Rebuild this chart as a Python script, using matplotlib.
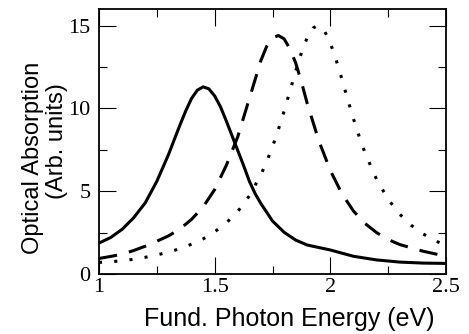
import matplotlib
matplotlib.use('Agg')
import matplotlib.pyplot as plt
import matplotlib.ticker as ticker

# values (eV, arb. units)
solid_x = [1.00, 1.05, 1.10, 1.15, 1.20, 1.25, 1.30, 1.35, 1.375, 1.40, 1.425, 1.45,
           1.475, 1.50, 1.525, 1.55, 1.575, 1.60, 1.625, 1.65, 1.675, 1.70, 1.75,
           1.80, 1.85, 1.90, 1.95, 2.00, 2.10, 2.20, 2.30, 2.40, 2.50]
solid_y = [1.87, 2.2, 2.7, 3.4, 4.3, 5.6, 7.2, 9.0, 9.85, 10.6, 11.1, 11.3,
           11.18, 10.75, 10.1, 9.25, 8.35, 7.45, 6.55, 5.6, 4.85, 4.25, 3.2,
           2.52, 2.05, 1.75, 1.6, 1.45, 1.07, 0.85, 0.72, 0.66, 0.64]

dash_x = [1.00, 1.05, 1.10, 1.15, 1.20, 1.25, 1.30, 1.35, 1.40, 1.45, 1.50, 1.55,
          1.60, 1.65, 1.70, 1.725, 1.75, 1.775, 1.80, 1.825, 1.85, 1.875, 1.90,
          1.95, 2.00, 2.05, 2.10, 2.15, 2.20, 2.25, 2.30, 2.40, 2.50]
dash_y = [0.94, 1.06, 1.2, 1.42, 1.68, 1.98, 2.3, 2.72, 3.3, 4.05, 5.1, 6.55,
          8.3, 10.6, 12.9, 13.75, 14.25, 14.4, 14.2, 13.6, 12.75, 11.6, 10.3,
          8.05, 6.25, 4.85, 3.8, 3.05, 2.5, 2.08, 1.78, 1.38, 1.07]

dot_x = [1.00, 1.05, 1.10, 1.15, 1.20, 1.25, 1.30, 1.35, 1.40, 1.45, 1.50, 1.55,
         1.60, 1.65, 1.70, 1.725, 1.75, 1.775, 1.80, 1.825, 1.85, 1.875, 1.90,
         1.925, 1.945, 1.975, 2.00, 2.025, 2.05, 2.075, 2.10, 2.125, 2.15, 2.20,
         2.25, 2.30, 2.35, 2.40, 2.45, 2.50]
dot_y = [0.70, 0.74, 0.8, 0.89, 1.01, 1.15, 1.32, 1.53, 1.8, 2.12, 2.55, 3.08,
         3.78, 4.72, 6.0, 6.79, 7.69, 8.71, 9.83, 11.03, 12.24, 13.36, 14.28,
         14.85, 15.0, 14.67, 13.95, 12.93, 11.76, 10.54, 9.37, 8.29, 7.31, 5.71,
         4.51, 3.61, 2.94, 2.43, 2.03, 1.72]

fig = plt.figure(figsize=(4.69, 3.34), dpi=100)
ax = fig.add_axes([0.2111, 0.1796, 0.951 - 0.2111, 0.973 - 0.1796])

ax.plot(solid_x, solid_y, color='black', lw=2.2, solid_capstyle='butt')
ax.plot(dash_x, dash_y, color='black', lw=2.2, linestyle=(0, (6, 4)), dash_capstyle='butt')
ax.plot(dot_x, dot_y, color='black', lw=2.2, linestyle=(0, (1, 4)), dash_capstyle='butt')

ax.set_xlim(1, 2.5)
ax.set_ylim(0, 16)
ax.xaxis.set_major_locator(ticker.MultipleLocator(0.5))
ax.xaxis.set_minor_locator(ticker.MultipleLocator(0.25))
ax.yaxis.set_major_locator(ticker.MultipleLocator(5))
ax.yaxis.set_minor_locator(ticker.MultipleLocator(2.5))
ax.xaxis.set_major_formatter(ticker.FuncFormatter(lambda v, pos: '{0:g}'.format(v)))

ax.tick_params(which='both', direction='in', top=True, right=True, width=0.8)
ax.tick_params(which='major', length=12.2)
ax.tick_params(which='minor', length=5.8)
ax.tick_params(axis='x', pad=3)
ax.tick_params(axis='y', pad=6)
for lab in ax.get_xticklabels() + ax.get_yticklabels():
    lab.set_fontfamily('Liberation Serif')
    lab.set_fontsize(16)
for sp in ax.spines.values():
    sp.set_linewidth(1.3)

# axis titles, placed by hand (the two y-label lines are not centred on each other)
ax.text(0.5476, -0.196, 'Fund. Photon Energy (eV)', transform=ax.transAxes,
        fontfamily='Liberation Sans', fontsize=18, ha='center', va='baseline',
        rotation_mode='anchor')
ax.text(-0.172, 0.4377, 'Optical Absorption', transform=ax.transAxes,
        fontfamily='Liberation Sans', fontsize=17, ha='center', va='baseline',
        rotation=90, rotation_mode='anchor')
ax.text(-0.1037, 0.5, '(Arb. units)', transform=ax.transAxes,
        fontfamily='Liberation Sans', fontsize=17, ha='center', va='baseline',
        rotation=90, rotation_mode='anchor')

plt.savefig('out.png', dpi=100)
